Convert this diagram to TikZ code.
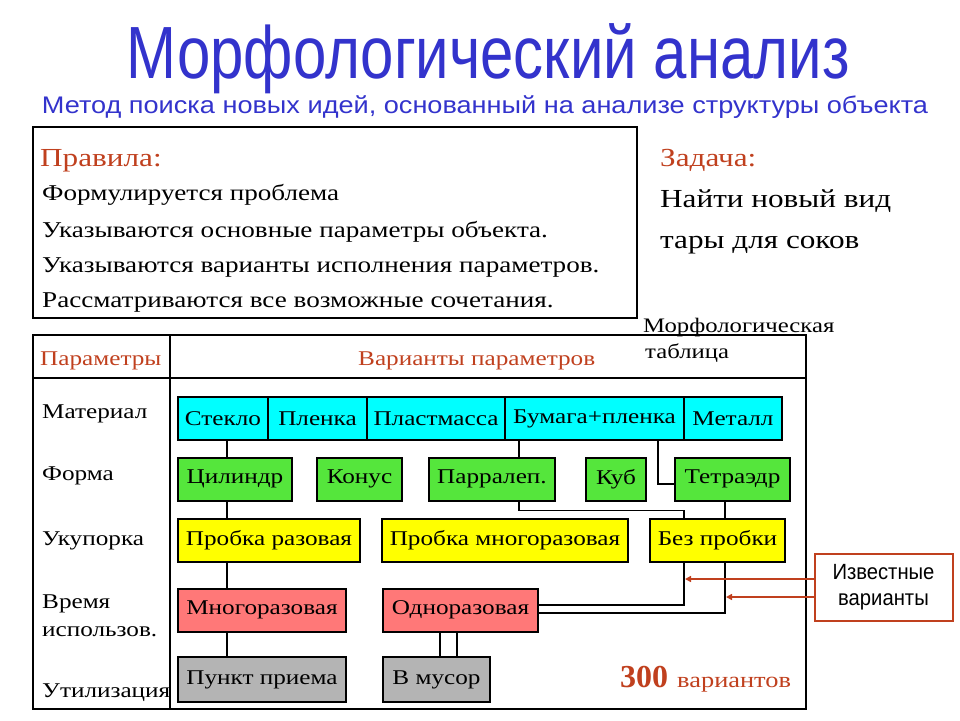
\documentclass[tikz,border=0pt]{standalone}
\usepackage{fontspec}
\setmainfont{Liberation Serif}
\newfontfamily\titlefont{Liberation Sans}[FakeStretch=0.81]
\newfontfamily\subfont{Liberation Sans}[FakeStretch=1.13]
\newfontfamily\widefont{Liberation Serif}[FakeStretch=1.2]
\newfontfamily\notefont{Liberation Sans}[FakeStretch=0.92]
\usetikzlibrary{positioning, arrows.meta}
\definecolor{titleblue}{HTML}{3333CC}
\definecolor{brickred}{HTML}{C0401E}
\definecolor{matcyan}{HTML}{00FFFF}
\definecolor{formgreen}{HTML}{55E63C}
\definecolor{capyellow}{HTML}{FFFF00}
\definecolor{usepink}{HTML}{FF7878}
\definecolor{dispgray}{HTML}{B4B4B4}
\tikzset{
  cell/.style={draw, line width=2pt, inner sep=0pt, outer sep=0pt, minimum height=43pt, font=\widefont\fontsize{21}{21}\selectfont},
  lbl/.style={anchor=base west, inner sep=0pt, font=\widefont\fontsize{21}{21}\selectfont},
  wire/.style={line width=1.6pt},
  frame/.style={line width=2pt},
  hint/.style={-{Triangle[length=6pt,width=6pt]}, brickred, line width=1.6pt},
}
\begin{document}
\begin{tikzpicture}[x=1pt, y=-1pt]
  \useasboundingbox (0,0) rectangle (960,720);

  % heading
  \node[titleblue, font=\titlefont\fontsize{74}{74}\selectfont, anchor=base] (title) at (488,78) {Морфологический анализ};
  \node[titleblue, font=\subfont\fontsize{24}{24}\selectfont, anchor=base] (sub) at (485,113) {Метод поиска новых идей, основанный на анализе структуры объекта};

  % rules and task
  \draw[frame] (33,127) rectangle (637,318);
  \node[lbl, brickred, font=\widefont\fontsize{26}{26}\selectfont] (rules) at (40,166) {Правила:};
  \node[lbl, font=\widefont\fontsize{22.6}{22.6}\selectfont] (rule1) at (42,200) {Формулируется проблема};
  \node[lbl, font=\widefont\fontsize{22.6}{22.6}\selectfont] (rule2) at (42,237) {Указываются основные параметры объекта.};
  \node[lbl, font=\widefont\fontsize{22.6}{22.6}\selectfont] (rule3) at (42,272) {Указываются варианты исполнения параметров.};
  \node[lbl, font=\widefont\fontsize{22.6}{22.6}\selectfont] (rule4) at (42,307) {Рассматриваются все возможные сочетания.};
  \node[lbl, brickred, font=\widefont\fontsize{26}{26}\selectfont] (task) at (660,166) {Задача:};
  \node[lbl, font=\widefont\fontsize{26}{26}\selectfont] (task1) at (660,207) {Найти новый вид};
  \node[lbl, font=\widefont\fontsize{26}{26}\selectfont] (task2) at (660,248) {тары для соков};

  % table frame
  \draw[frame] (33,335) rectangle (806,709);
  \draw[frame] (33,378) -- (806,378);
  \draw[frame] (170,335) -- (170,709);
  \node[lbl, font=\widefont\fontsize{20.6}{20.6}\selectfont] (mtab1) at (643,332) {Морфологическая};
  \node[lbl, font=\widefont\fontsize{20.6}{20.6}\selectfont] (mtab2) at (645,358) {таблица};
  \node[lbl, brickred] (hpar) at (40,365) {Параметры};
  \node[lbl, brickred] (hvar) at (358,365) {Варианты параметров};
  \node[lbl] (pmat) at (42,418) {Материал};
  \node[lbl] (pform) at (42,480) {Форма};
  \node[lbl] (pcap) at (42,545) {Укупорка};
  \node[lbl] (ptime1) at (42,608) {Время};
  \node[lbl] (ptime2) at (42,636) {использов.};
  \node[lbl] (pdisp) at (42,697) {Утилизация};

  % material
  \node[cell, fill=matcyan, minimum width=90pt] (steklo) at (223,418.5) {Стекло};
  \node[cell, fill=matcyan, minimum width=99pt, right=0pt of steklo] (plenka) {Пленка};
  \node[cell, fill=matcyan, minimum width=138pt, right=0pt of plenka] (plast) {Пластмасса};
  \node[cell, fill=matcyan, minimum width=179pt, right=0pt of plast] (bumaga) {Бумага+пленка};
  \node[cell, fill=matcyan, minimum width=98pt, right=0pt of bumaga] (metall) {Металл};

  % form
  \node[cell, fill=formgreen, minimum width=114pt] (cil) at (235,479) {Цилиндр};
  \node[cell, fill=formgreen, minimum width=85pt] (konus) at (359.5,479) {Конус};
  \node[cell, fill=formgreen, minimum width=126pt] (parr) at (492,479) {Парралеп.};
  \node[cell, fill=formgreen, minimum width=60pt] (kub) at (616,479) {Куб};
  \node[cell, fill=formgreen, minimum width=115pt] (tetr) at (732.5,479) {Тетраэдр};

  % closure
  \node[cell, fill=capyellow, minimum width=182pt] (once) at (269,540) {Пробка разовая};
  \node[cell, fill=capyellow, minimum width=246pt] (multi) at (505,540) {Пробка многоразовая};
  \node[cell, fill=capyellow, minimum width=135pt] (nocap) at (717.5,540) {Без пробки};

  % time of use
  \node[cell, fill=usepink, minimum width=168pt] (reuse) at (262,610) {Многоразовая};
  \node[cell, fill=usepink, minimum width=155pt] (single) at (460.5,610) {Одноразовая};

  % disposal
  \node[cell, fill=dispgray, minimum width=168pt, minimum height=45pt] (punkt) at (262,679.5) {Пункт приема};
  \node[cell, fill=dispgray, minimum width=107pt, minimum height=45pt] (musor) at (436.5,679.5) {В мусор};

  % variant lines
  \coordinate (xa) at (227,0);
  \coordinate (xb) at (519,0);
  \coordinate (xc) at (658,0);
  \coordinate (xd) at (684,0);
  \coordinate (xe) at (725,0);
  \coordinate (xf) at (440,0);
  \coordinate (xg) at (457,0);
  \draw[wire] (steklo.south -| xa) -- (cil.north -| xa);
  \draw[wire] (cil.south -| xa) -- (once.north -| xa);
  \draw[wire] (once.south -| xa) -- (reuse.north -| xa);
  \draw[wire] (reuse.south -| xa) -- (punkt.north -| xa);
  \draw[wire] (bumaga.south -| xb) -- (parr.north -| xb);
  \draw[wire] (parr.south -| xb) -- ++(0,10) -| (nocap.north -| xd);
  \draw[wire] (bumaga.south -| xc) |- ([yshift=-5pt]tetr.west);
  \draw[wire] (tetr.south -| xe) -- (nocap.north -| xe);
  \draw[wire] (nocap.south -| xd) |- ([yshift=5pt]single.east);
  \draw[wire] (nocap.south -| xe) |- ([yshift=-3pt]single.east);
  \draw[wire] (single.south -| xf) -- (musor.north -| xf);
  \draw[wire] (single.south -| xg) -- (musor.north -| xg);

  % total
  \node[lbl, brickred, font=\fontsize{32}{32}\selectfont\bfseries] (total) at (620,687) {300};
  \node[lbl, brickred, font=\widefont\fontsize{22}{22}\selectfont] (totalw) at (677,687) {вариантов};

  % known variants
  \node[draw=brickred, line width=2pt, minimum width=138pt, minimum height=67pt, align=center, font=\notefont\fontsize{22}{26}\selectfont] (known) at (883.5,587.5) {Известные\\варианты};
  \coordinate (tipa) at (685,579);
  \coordinate (tipb) at (726,597);
  \draw[hint] (known.west |- tipa) -- (tipa);
  \draw[hint] (known.west |- tipb) -- (tipb);
\end{tikzpicture}
\end{document}
